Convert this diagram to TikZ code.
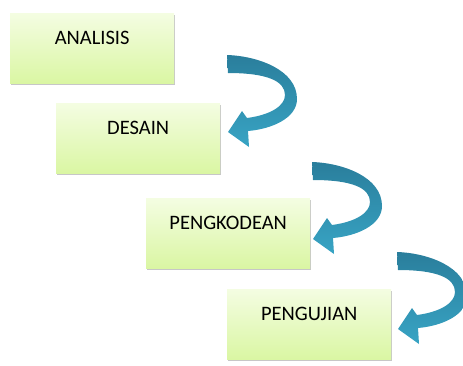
\documentclass[tikz,border=0pt]{standalone}
\usepackage{fontspec}
\setmainfont{Carlito}
\usetikzlibrary{shadows}
\definecolor{boxtop}{HTML}{F4FDE2}
\definecolor{boxbot}{HTML}{DAF6A3}
\definecolor{arrtop}{HTML}{2A7E9C}
\definecolor{arrbot}{HTML}{38A4C4}
\tikzset{
  stagebox/.style={
    minimum width=164pt, text width=164pt, align=center, inner sep=0pt,
    text height=31.5pt, text depth=38.5pt,
    top color=boxtop, bottom color=boxbot, draw=none,
    drop shadow={shadow xshift=1.2pt, shadow yshift=-2.2pt, opacity=0.4, fill=black!55},
    font=\fontsize{20.5}{24}\selectfont
  },
  bendarrow/.style={top color=arrtop, bottom color=arrbot, draw=none}
}
% curved block arrow; origin is the upper corner of its tail
\newcommand\curvedarrow[2]{%
  \begin{scope}[shift={(#1,#2)}]
    \path[bendarrow]
      (0,0) .. controls (31,1) and (70,15) .. (70,44)
            .. controls (70,63) and (45,74) .. (21,76)
      -- (22,92) -- (1,77) -- (15,56) -- (20,63)
            .. controls (43,60) and (58,51) .. (58,40)
            .. controls (58,26) and (40,18) .. (1,18)
      -- cycle;
  \end{scope}}
\begin{document}
\begin{tikzpicture}[x=1pt,y=-1pt]
  \useasboundingbox (0,0) rectangle (463,365);
  \clip (0,0) rectangle (463,365);
  \node[stagebox, anchor=north west] (analisis) at (10,13) {ANALISIS};
  \node[stagebox, anchor=north west] (desain) at (56,103) {DESAIN};
  \node[stagebox, anchor=north west] (pengkodean) at (146,198) {PENGKODEAN};
  \node[stagebox, anchor=north west] (pengujian) at (227,289) {PENGUJIAN};
  \curvedarrow{227}{55}
  \curvedarrow{312}{162}
  \curvedarrow{397}{252}
\end{tikzpicture}
\end{document}
